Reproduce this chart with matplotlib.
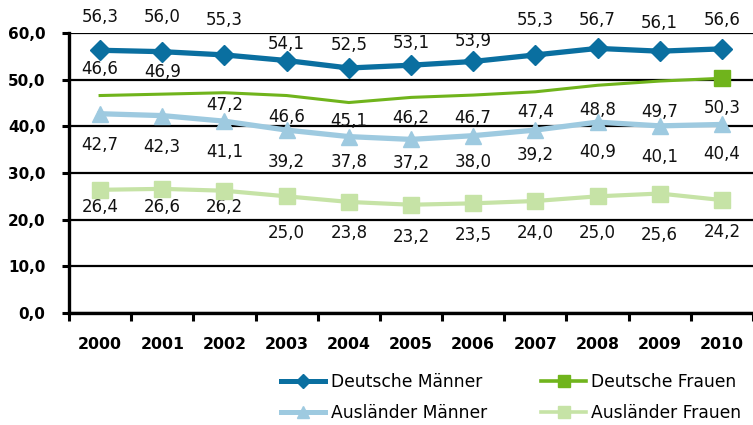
import numpy as np
import matplotlib.pyplot as plt
from matplotlib.lines import Line2D

# Chart data
years = ['2000', '2001', '2002', '2003', '2004', '2005', '2006', '2007', '2008', '2009', '2010']
deutsche_maenner = [56.3, 56.0, 55.3, 54.1, 52.5, 53.1, 53.9, 55.3, 56.7, 56.1, 56.6]
deutsche_frauen = [46.6, 46.9, 47.2, 46.6, 45.1, 46.2, 46.7, 47.4, 48.8, 49.7, 50.3]
auslaender_maenner = [42.7, 42.3, 41.1, 39.2, 37.8, 37.2, 38.0, 39.2, 40.9, 40.1, 40.4]
auslaender_frauen = [26.4, 26.6, 26.2, 25.0, 23.8, 23.2, 23.5, 24.0, 25.0, 25.6, 24.2]

# label offsets in pixels (positive = up), hand placed like in the original
dm_off = [33, 35, 35, 17, 23, 22, 20, 35, 28, 28, 29]
df_off = [27, 22, -12, -21, -18, -21, -23, -20, -25, -31, -30]
am_off = [-31, -31, -31, -32, -25, -24, -26, -25, -30, -31, -30]
af_off = [-17, -18, -16, -37, -31, -32, -32, -32, -37, -41, -32]

c_dm = '#0a6fa0'
c_df = '#70b41c'
c_am = '#9ecae0'
c_af = '#c6e3a6'

fig = plt.figure(figsize=(7.53, 4.25), dpi=100)
ax = fig.add_axes([69 / 753, 112 / 425, (753 - 69) / 753, 280 / 425])

x = np.arange(len(years))

ax.plot(x, auslaender_frauen, color=c_af, lw=3, marker='s', ms=11.5, zorder=3)
ax.plot(x, auslaender_maenner, color=c_am, lw=3.8, marker='^', ms=11, zorder=4)
ax.plot(x, deutsche_frauen, color=c_df, lw=2.2, zorder=5)
ax.plot(x[-1:], deutsche_frauen[-1:], color=c_df, ls='none', marker='s', ms=11.5, zorder=5)
ax.plot(x, deutsche_maenner, color=c_dm, lw=3.8, marker='D', ms=10, zorder=6)

def fmt(v):
    return ('%.1f' % v).replace('.', ',')

for series, offs in [(deutsche_maenner, dm_off), (deutsche_frauen, df_off),
                     (auslaender_maenner, am_off), (auslaender_frauen, af_off)]:
    for i, v in enumerate(series):
        ax.annotate(fmt(v), (x[i], v), xytext=(0, offs[i]), textcoords='offset pixels',
                    ha='center', va='center', fontsize=12, color='#111111', zorder=2)

ax.set_ylim(0, 60)
ax.set_xlim(-0.5, 10 + (753 - 726.3) / 62.5)
ax.set_yticks(np.arange(0, 61, 10))
ax.set_yticklabels([fmt(v) for v in np.arange(0, 61, 10)], fontsize=11, fontweight='bold')
ax.yaxis.grid(True, color='black', lw=1.6, zorder=1)
ax.set_axisbelow(True)

ax.set_xticks(x)
ax.set_xticklabels(years, fontsize=11.3, fontweight='bold')
ax.set_xticks(np.arange(-0.5, 10.6, 1), minor=True)
ax.tick_params(axis='x', which='major', length=0, pad=17)
ax.tick_params(axis='x', which='minor', length=6, width=2.2, color='black')
ax.tick_params(axis='y', length=5, width=2.2, pad=12, color='black')

for side in ['top', 'right']:
    ax.spines[side].set_visible(False)
for side in ['left', 'bottom']:
    ax.spines[side].set_linewidth(2.4)
    ax.spines[side].set_color('black')

handles = [
    Line2D([], [], color=c_dm, lw=3.6, marker='D', ms=7, label='Deutsche Männer'),
    Line2D([], [], color=c_am, lw=3.6, marker='^', ms=8, label='Ausländer Männer'),
    Line2D([], [], color=c_df, lw=2.6, marker='s', ms=8, label='Deutsche Frauen'),
    Line2D([], [], color=c_af, lw=2.6, marker='s', ms=8, label='Ausländer Frauen'),
]
fig.legend(handles=handles, ncol=2, frameon=False, fontsize=12.3,
           loc='center left', bbox_to_anchor=(281 / 753, 1 - 397.5 / 425),
           borderpad=0, borderaxespad=0, handlelength=2.6, handletextpad=0.3,
           columnspacing=3.2, labelspacing=0.8)

fig.savefig('out.png', dpi=100)
